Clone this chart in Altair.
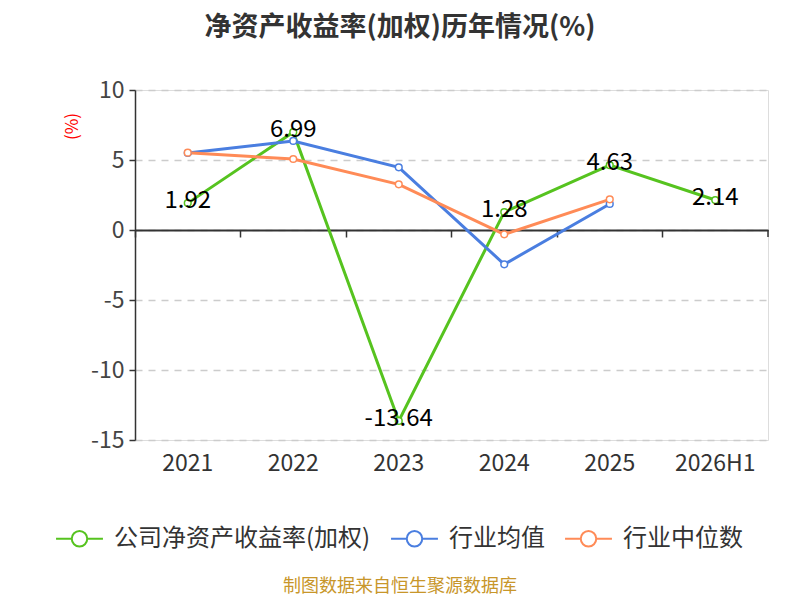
import altair as alt
import pandas as pd

years = ["2021", "2022", "2023", "2024", "2025", "2026H1"]
company = [1.92, 6.99, -13.64, 1.28, 4.63, 2.14]
ind_avg = [5.50, 6.36, 4.48, -2.45, 1.86, None]
ind_med = [5.52, 5.07, 3.26, -0.31, 2.19, None]
series_names = ["公司净资产收益率(加权)", "行业均值", "行业中位数"]
series_colors = ["#56c31f", "#4a7ee0", "#ff8b57"]
title_text = "净资产收益率(加权)历年情况(%)"
footer_text = "制图数据来自恒生聚源数据库"
y_ticks = [-15, -10, -5, 0, 5, 10]

FONT = "Noto Sans CJK SC"

rows = []
for name, vals in zip(series_names, [company, ind_avg, ind_med]):
    for i, (yr, v) in enumerate(zip(years, vals)):
        if v is not None:
            rows.append({"year": yr, "value": v, "series": name, "order": i})
df = pd.DataFrame(rows)
df_company = df[df["series"] == series_names[0]].copy()
df_company["label"] = df_company["value"].map(lambda v: f"{v:.2f}")

xscale = alt.Scale(type="band", domain=years, paddingInner=0, paddingOuter=0)
yscale = alt.Scale(domain=[-15, 10], nice=False, zero=False)

legend_path = ("M-1,0L-0.33,0M0.33,0L1,0"
               "M-0.33,0A0.33,0.33 0 1,1 0.33,0A0.33,0.33 0 1,1 -0.33,0Z")

color_enc = alt.Color(
    "series:N",
    scale=alt.Scale(domain=series_names, range=series_colors),
    sort=series_names,
    legend=alt.Legend(
        title=None, orient="none", direction="horizontal",
        legendX=-80, legendY=424,
        symbolType=legend_path, symbolSize=2200, symbolStrokeWidth=2,
        symbolFillColor="white", labelFontSize=24, labelFont=FONT,
        labelColor="#333333", labelOffset=10, columnPadding=16, padding=0,
        labelLimit=500,
    ),
)

y_axis = alt.Axis(
    values=y_ticks, title="(%)", titleColor="red", titleFontSize=17,
    titleFont=FONT, titleFontWeight="normal", titleAngle=270,
    titleAlign="center", titleBaseline="middle", titleX=-63, titleY=36,
    labelFontSize=23, labelFont=FONT, labelColor="#444444", labelPadding=5,
    labelExpr="'' + datum.value",
    tickSize=6, tickColor="#333333", tickWidth=1.5,
    domainColor="#333333", domainWidth=1.5,
    grid=True, gridColor="#cccccc", gridDash=[7, 6], gridWidth=1.5,
)

base = alt.Chart(df)

lines = base.mark_line(strokeWidth=3).encode(
    x=alt.X("year:N", scale=xscale, sort=years,
            axis=alt.Axis(title=None, domain=False, ticks=False, grid=False,
                          labelFontSize=23, labelFont=FONT, labelColor="#333333",
                          labelPadding=12, labelAngle=0)),
    y=alt.Y("value:Q", scale=yscale, axis=y_axis),
    color=color_enc,
    order=alt.Order("order:Q"),
)

points = base.mark_point(filled=False, fill="white", fillOpacity=1, opacity=1,
                         size=45, strokeWidth=1.5).encode(
    x=alt.X("year:N", scale=xscale, sort=years, axis=None),
    y=alt.Y("value:Q", scale=yscale),
    color=color_enc,
)

labels = alt.Chart(df_company).mark_text(
    fontSize=24, font=FONT, color="#000000", dy=-2, align="center",
    baseline="middle").encode(
    x=alt.X("year:N", scale=xscale, sort=years,
            axis=alt.Axis(title=None, orient="bottom", offset=-210,
                          labels=False, grid=False, domain=True, ticks=True,
                          bandPosition=0, tickSize=7, tickWidth=1.5,
                          tickColor="#333333", domainColor="#333333",
                          domainWidth=2)),
    y=alt.Y("value:Q", scale=yscale),
    text="label:N",
)

end_tick = alt.Chart(pd.DataFrame({"k": [0]})).mark_rule(
    color="#333333", strokeWidth=1.5).encode(
    x=alt.value(633), y=alt.value(140), y2=alt.value(147))

title_mark = alt.Chart(pd.DataFrame({"t": [title_text]})).mark_text(
    fontSize=27, font=FONT, fontWeight="bold", color="#333333",
    align="center", baseline="middle").encode(
    x=alt.value(265), y=alt.value(-62), text="t:N")

footer_mark = alt.Chart(pd.DataFrame({"t": [footer_text]})).mark_text(
    fontSize=18, font=FONT, color="#c8962a",
    align="center", baseline="middle").encode(
    x=alt.value(265), y=alt.value(497), text="t:N")

chart = alt.layer(lines, points, labels, end_tick, title_mark, footer_mark).resolve_axis(
    x="independent"
).properties(
    width=633, height=350, autosize="none",
    padding={"left": 127, "top": 82, "right": 24, "bottom": 160},
).configure_view(stroke=None).configure(background="white")

chart.save("out.html", embed_options={"renderer": "svg", "actions": False})
